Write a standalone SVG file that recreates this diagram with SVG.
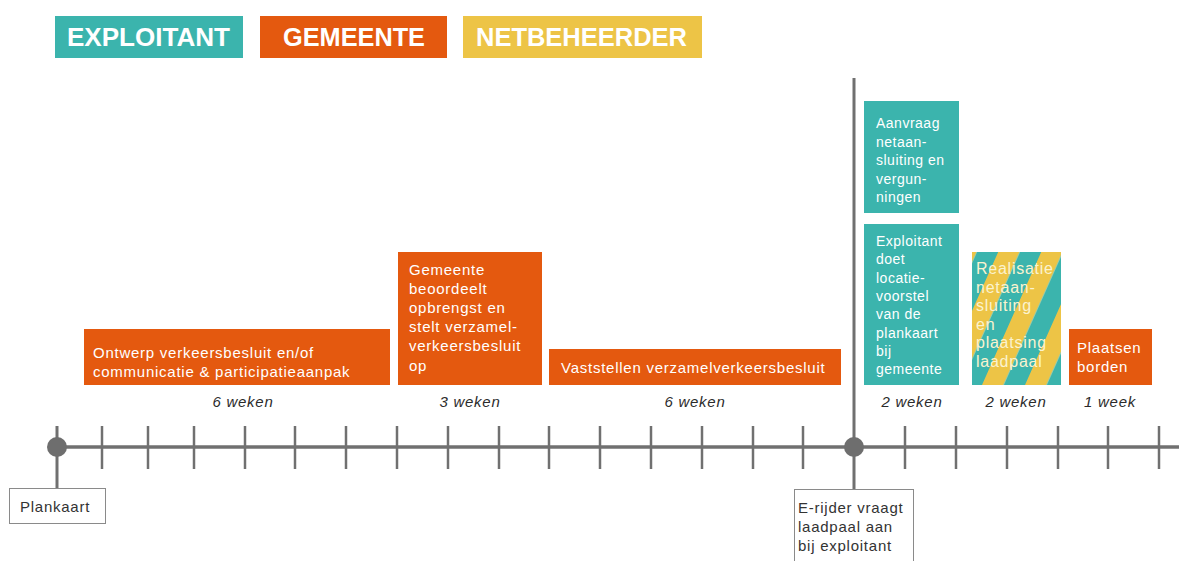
<svg xmlns="http://www.w3.org/2000/svg" width="1179" height="561" viewBox="0 0 1179 561">
  <defs>
    <style>
      .teal { fill: #3bb4ad; }
      .orange { fill: #e4590f; }
      .yellow { fill: #edc446; }
      .legend { font-family: "Liberation Sans", Arial, sans-serif; font-weight: bold; font-size: 25px; fill: #ffffff; }
      .lbl { font-family: "Liberation Sans", Arial, sans-serif; font-size: 15px; letter-spacing: 0.75px; fill: #ffffff; }
      .sm { font-size: 14px; letter-spacing: 0.5px; }
      .big { font-size: 16px; letter-spacing: 0.75px; }
      .cream { fill: #fbf3cf; }
      .dur { font-family: "Liberation Sans", Arial, sans-serif; font-size: 15px; font-style: italic; letter-spacing: 0.75px; fill: #2b2b2b; text-anchor: middle; }
      .note { font-family: "Liberation Sans", Arial, sans-serif; font-size: 15px; letter-spacing: 0.75px; fill: #333333; }
      .notebox { fill: #ffffff; stroke: #8a8a8a; stroke-width: 1; }
      .axis { stroke: #707070; stroke-width: 3.5; fill: none; }
      .tick { stroke: #707070; stroke-width: 2.5; }
      .stem { stroke: #707070; stroke-width: 3; fill: none; }
      .dot { fill: #6e6e6e; }
    </style>
    <!-- diagonal teal/yellow bands for the shared exploitant/netbeheerder step -->
    <pattern id="stripes" patternUnits="userSpaceOnUse" width="43" height="400" patternTransform="translate(982,385) skewX(-24)">
      <rect x="0" y="0" width="21.5" height="400" fill="#edc446"/>
      <rect x="21.5" y="0" width="21.5" height="400" fill="#3bb4ad"/>
    </pattern>
  </defs>

  <rect width="1179" height="561" fill="#ffffff"/>

  <!-- legend -->
  <g id="legend-exploitant">
    <rect class="teal" x="55" y="16" width="188" height="42"/>
    <text class="legend" x="67" y="46" textLength="163" lengthAdjust="spacingAndGlyphs">EXPLOITANT</text>
  </g>
  <g id="legend-gemeente">
    <rect class="orange" x="260" y="16" width="187" height="42"/>
    <text class="legend" x="283" y="46" textLength="142" lengthAdjust="spacingAndGlyphs">GEMEENTE</text>
  </g>
  <g id="legend-netbeheerder">
    <rect class="yellow" x="463" y="16" width="239" height="42"/>
    <text class="legend" x="476" y="46" textLength="211" lengthAdjust="spacingAndGlyphs">NETBEHEERDER</text>
  </g>

  <!-- timeline axis with week ticks -->
  <g id="timeline">
    <line class="axis" x1="57" y1="447" x2="1179" y2="447"/>
    <g class="tick">
      <line x1="102" y1="426" x2="102" y2="469"/>
      <line x1="148" y1="426" x2="148" y2="469"/>
      <line x1="194" y1="426" x2="194" y2="469"/>
      <line x1="245" y1="426" x2="245" y2="469"/>
      <line x1="295" y1="426" x2="295" y2="469"/>
      <line x1="346" y1="426" x2="346" y2="469"/>
      <line x1="397" y1="426" x2="397" y2="469"/>
      <line x1="448" y1="426" x2="448" y2="469"/>
      <line x1="499" y1="426" x2="499" y2="469"/>
      <line x1="549" y1="426" x2="549" y2="469"/>
      <line x1="600" y1="426" x2="600" y2="469"/>
      <line x1="651" y1="426" x2="651" y2="469"/>
      <line x1="702" y1="426" x2="702" y2="469"/>
      <line x1="753" y1="426" x2="753" y2="469"/>
      <line x1="803" y1="426" x2="803" y2="469"/>
      <line x1="905" y1="426" x2="905" y2="469"/>
      <line x1="956" y1="426" x2="956" y2="469"/>
      <line x1="1007" y1="426" x2="1007" y2="469"/>
      <line x1="1058" y1="426" x2="1058" y2="469"/>
      <line x1="1108" y1="426" x2="1108" y2="469"/>
      <line x1="1159" y1="426" x2="1159" y2="469"/>
    </g>
  </g>

  <!-- milestone stems -->
  <g id="connectors">
    <line class="stem" x1="57" y1="426" x2="57" y2="488"/>
    <line class="stem" x1="854" y1="78" x2="854" y2="489"/>
  </g>

  <!-- milestones -->
  <g id="milestone-plankaart">
    <circle class="dot" cx="57" cy="447" r="10"/>
    <rect class="notebox" x="9.5" y="488.5" width="96" height="35"/>
    <text class="note" x="20" y="512">Plankaart</text>
  </g>
  <g id="milestone-erijder">
    <circle class="dot" cx="854" cy="447" r="10"/>
    <rect class="notebox" x="794.5" y="489.5" width="119" height="80"/>
    <text class="note" x="798" y="513">E-rijder vraagt</text>
    <text class="note" x="798" y="532">laadpaal aan</text>
    <text class="note" x="798" y="551">bij exploitant</text>
  </g>

  <!-- gemeente steps -->
  <g id="step-ontwerp">
    <rect class="orange" x="84" y="329" width="306" height="56"/>
    <text class="lbl" x="93" y="357.5">Ontwerp verkeersbesluit en/of</text>
    <text class="lbl" x="93" y="377">communicatie &amp; participatieaanpak</text>
    <text class="dur" x="243" y="407">6 weken</text>
  </g>
  <g id="step-beoordeelt">
    <rect class="orange" x="398" y="252" width="144" height="133"/>
    <text class="lbl" x="409" y="274.5">Gemeente</text>
    <text class="lbl" x="409" y="293.7">beoordeelt</text>
    <text class="lbl" x="409" y="312.9">opbrengst en</text>
    <text class="lbl" x="409" y="332.1">stelt verzamel-</text>
    <text class="lbl" x="409" y="351.3">verkeersbesluit</text>
    <text class="lbl" x="409" y="370.5">op</text>
    <text class="dur" x="470" y="407">3 weken</text>
  </g>
  <g id="step-vaststellen">
    <rect class="orange" x="549" y="349" width="292" height="36"/>
    <text class="lbl" x="561" y="373">Vaststellen verzamelverkeersbesluit</text>
    <text class="dur" x="695" y="407">6 weken</text>
  </g>

  <!-- exploitant steps -->
  <g id="step-aanvraag">
    <rect class="teal" x="864" y="101" width="95" height="112"/>
    <text class="lbl sm" x="876" y="128">Aanvraag</text>
    <text class="lbl sm" x="876" y="146.5">netaan-</text>
    <text class="lbl sm" x="876" y="165">sluiting en</text>
    <text class="lbl sm" x="876" y="183.5">vergun-</text>
    <text class="lbl sm" x="876" y="202">ningen</text>
  </g>
  <g id="step-locatievoorstel">
    <rect class="teal" x="864" y="224" width="95" height="161"/>
    <text class="lbl sm" x="876" y="246">Exploitant</text>
    <text class="lbl sm" x="876" y="264.3">doet</text>
    <text class="lbl sm" x="876" y="282.6">locatie-</text>
    <text class="lbl sm" x="876" y="300.9">voorstel</text>
    <text class="lbl sm" x="876" y="319.2">van de</text>
    <text class="lbl sm" x="876" y="337.5">plankaart</text>
    <text class="lbl sm" x="876" y="355.8">bij</text>
    <text class="lbl sm" x="876" y="374.1">gemeente</text>
    <text class="dur" x="912" y="407">2 weken</text>
  </g>

  <!-- shared exploitant / netbeheerder step -->
  <g id="step-realisatie">
    <rect x="972" y="252" width="89" height="133" fill="url(#stripes)"/>
    <text class="lbl big cream" x="976" y="274">Realisatie</text>
    <text class="lbl big cream" x="976" y="292.5">netaan-</text>
    <text class="lbl big cream" x="976" y="311">sluiting</text>
    <text class="lbl big cream" x="976" y="329.5">en</text>
    <text class="lbl big cream" x="976" y="348">plaatsing</text>
    <text class="lbl big cream" x="976" y="366.5">laadpaal</text>
    <text class="dur" x="1016" y="407">2 weken</text>
  </g>

  <!-- final gemeente step -->
  <g id="step-borden">
    <rect class="orange" x="1069" y="329" width="83" height="56"/>
    <text class="lbl" x="1077" y="353">Plaatsen</text>
    <text class="lbl" x="1077" y="371.5">borden</text>
    <text class="dur" x="1110" y="407">1 week</text>
  </g>
</svg>
